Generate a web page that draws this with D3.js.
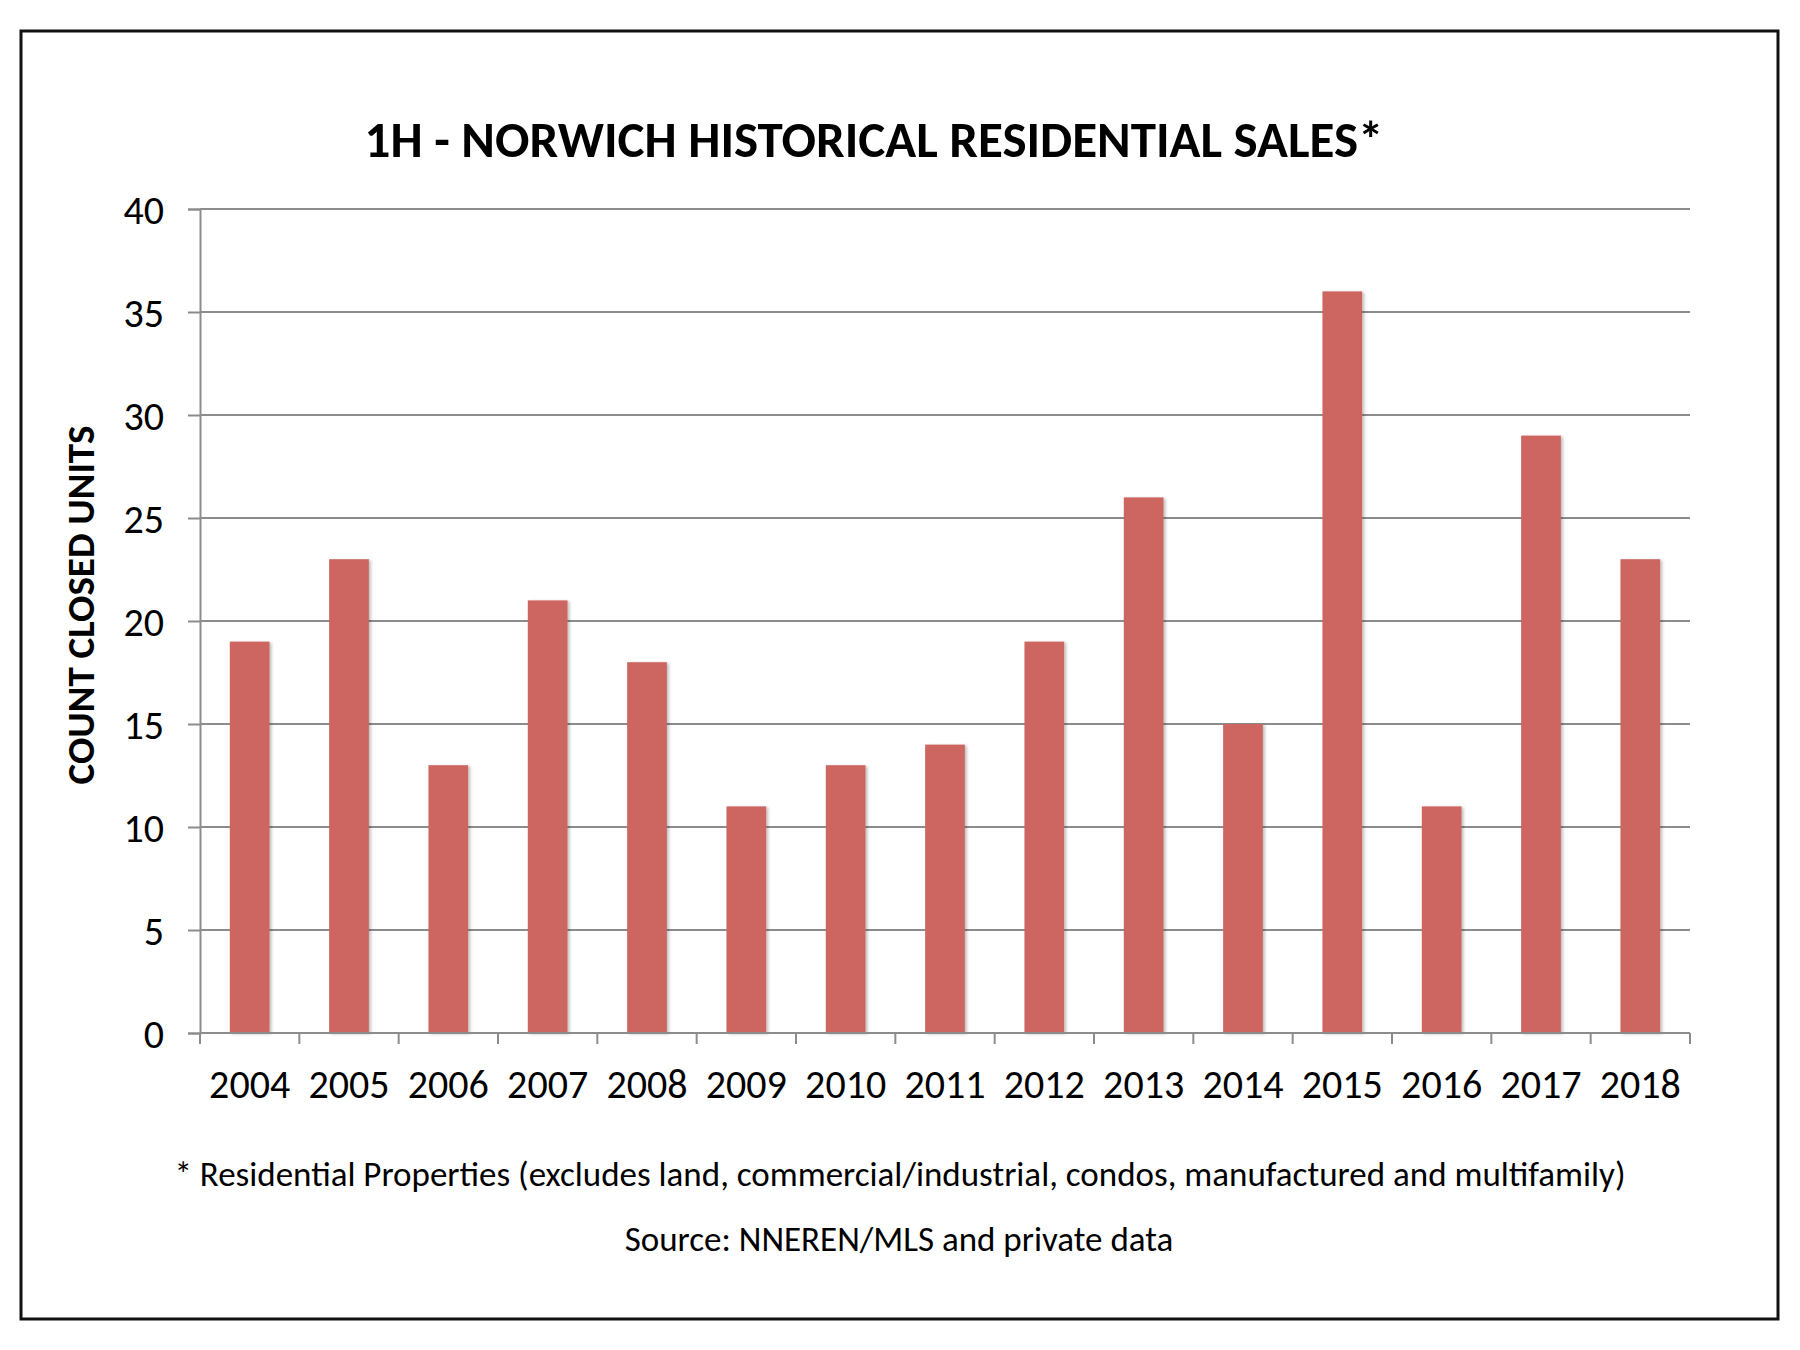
<!DOCTYPE html>
<html>
<head>
<meta charset="utf-8">
<script src="https://cdnjs.cloudflare.com/ajax/libs/d3/7.8.5/d3.min.js"></script>
<style>
  body { margin: 0; background: #fff; }
  text { font-family: Carlito, Calibri, "Open Sans", sans-serif; fill: #000; }
</style>
</head>
<body>
<svg width="1800" height="1350"></svg>
<script>
var years = ['2004', '2005', '2006', '2007', '2008', '2009', '2010', '2011',
  '2012', '2013', '2014', '2015', '2016', '2017', '2018']
var sales = [19, 23, 13, 21, 18, 11, 13, 14, 19, 26, 15, 36, 11, 29, 23]
var yTicks = [0, 5, 10, 15, 20, 25, 30, 35, 40]

var svg = d3.select('svg')

// outer frame
svg.append('rect')
    .attr('x', 21).attr('y', 31)
    .attr('width', 1757).attr('height', 1288)
    .attr('fill', '#fff')
    .attr('stroke', '#111')
    .attr('stroke-width', 3)

var defs = svg.append('defs')
var f = defs.append('filter').attr('id', 'shadow')
    .attr('x', '-20%').attr('y', '-5%').attr('width', '150%').attr('height', '110%')
f.append('feDropShadow')
    .attr('dx', 2).attr('dy', 1).attr('stdDeviation', 1.5)
    .attr('flood-color', '#000').attr('flood-opacity', 0.25)

var plotL = 200, plotR = 1690, plotT = 209, plotB = 1033

var x = d3.scaleBand()
    .domain(years)
    .range([plotL, plotR])
    .paddingInner(0.6)
    .paddingOuter(0.3)

var y = d3.scaleLinear()
    .domain([0, 40])
    .range([plotB, plotT])

// gridlines
svg.append('g')
    .selectAll('line')
    .data(yTicks.slice(1))
    .enter()
    .append('line')
    .attr('x1', plotL).attr('x2', plotR)
    .attr('y1', function (d) { return y(d) })
    .attr('y2', function (d) { return y(d) })
    .attr('stroke', '#8c8c8c')
    .attr('stroke-width', 2)

// bars
svg.append('g')
    .selectAll('rect')
    .data(sales)
    .enter()
    .append('rect')
    .attr('x', function (d, i) { return x(years[i]) })
    .attr('y', function (d) { return y(d) })
    .attr('width', x.bandwidth())
    .attr('height', function (d) { return plotB - y(d) })
    .attr('fill', '#cd6661')
    .attr('filter', 'url(#shadow)')

// y axis
var yAxis = svg.append('g')
    .attr('transform', 'translate(' + plotL + ',0)')
    .call(d3.axisLeft(y).tickValues(yTicks).tickSize(12).tickPadding(24))
yAxis.select('.domain').attr('stroke', '#8c8c8c').attr('stroke-width', 2)
yAxis.selectAll('.tick line').attr('stroke', '#8c8c8c').attr('stroke-width', 2)
yAxis.selectAll('.tick text')
    .style('font-size', '40px')
    .style('font-family', 'Carlito, Calibri, "Open Sans", sans-serif')
    .attr('fill', '#000')
    .attr('dy', '0.36em')

// x axis: ticks between categories
var xAxis = svg.append('g')
    .attr('transform', 'translate(0,' + plotB + ')')
xAxis.append('line')
    .attr('x1', plotL).attr('x2', plotR)
    .attr('stroke', '#8c8c8c').attr('stroke-width', 2)
var edges = d3.range(years.length + 1).map(function (i) {
  return plotL + i * (plotR - plotL) / years.length
})
xAxis.selectAll('.xt')
    .data(edges)
    .enter()
    .append('line')
    .attr('x1', function (d) { return d }).attr('x2', function (d) { return d })
    .attr('y1', 0).attr('y2', 11)
    .attr('stroke', '#8c8c8c').attr('stroke-width', 2)
xAxis.selectAll('text')
    .data(years)
    .enter()
    .append('text')
    .attr('x', function (d) { return x(d) + x.bandwidth() / 2 })
    .attr('y', 65)
    .attr('text-anchor', 'middle')
    .style('font-size', '40px')
    .text(function (d) { return d })

// titles
svg.append('text')
    .attr('x', 874).attr('y', 157)
    .attr('text-anchor', 'middle')
    .style('font-size', '51px')
    .style('font-weight', 'bold')
    .text('1H - NORWICH HISTORICAL RESIDENTIAL SALES*')

svg.append('text')
    .attr('transform', 'translate(94,605) rotate(-90)')
    .attr('text-anchor', 'middle')
    .style('font-size', '39px')
    .style('font-weight', 'bold')
    .text('COUNT CLOSED UNITS')

svg.append('text')
    .attr('x', 900).attr('y', 1186)
    .attr('text-anchor', 'middle')
    .style('font-size', '35px')
    .text('* Residential Properties (excludes land, commercial/industrial, condos, manufactured and multifamily)')

svg.append('text')
    .attr('x', 899).attr('y', 1251)
    .attr('text-anchor', 'middle')
    .style('font-size', '35px')
    .text('Source: NNEREN/MLS and private data')
</script>
</body>
</html>
